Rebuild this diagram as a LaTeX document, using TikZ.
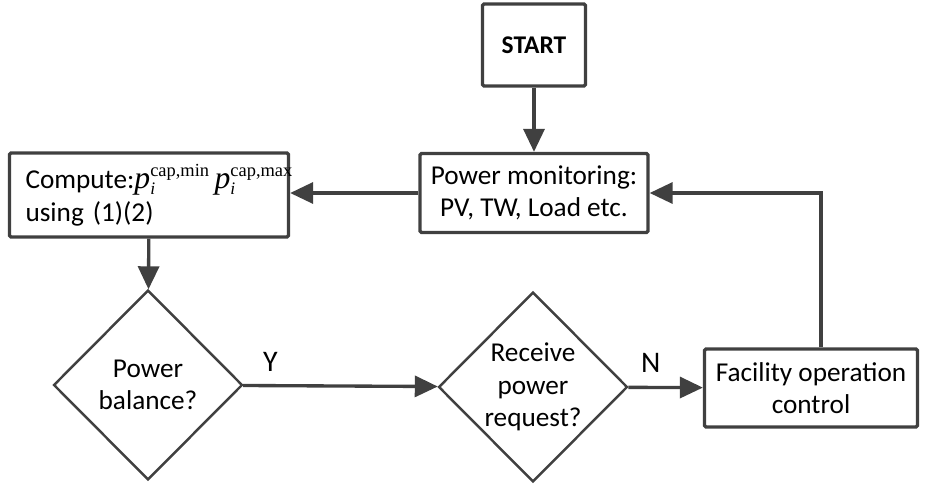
\documentclass[tikz,border=0pt]{standalone}
\usepackage{fontspec}
\setmainfont{Carlito}
\newfontfamily\timesfont{Liberation Serif}
\usetikzlibrary{positioning,shapes.geometric,arrows.meta}
\definecolor{lineColor}{RGB}{64,64,64}
\tikzstyle{chart} = [x = 0.02cm, y = -0.02cm]
\tikzstyle{chartFont} = [font=\fontsize{15.5}{18.5}\selectfont]
\tikzstyle{boxStyle} = [draw=lineColor, line width=1.9pt, rounded corners=.03cm, align=center, inner sep=2pt, chartFont]
\tikzstyle{decisionStyle} = [diamond, draw=lineColor, line width=1.4pt, align=center, inner sep=0pt, minimum width=3.78cm, minimum height=3.8cm, chartFont]
\tikzstyle{flowLine} = [draw=lineColor, line width=1.9pt, -{Triangle[length=.46cm, width=.42cm]}]
\tikzstyle{branchText} = [font=\fontsize{17}{19}\selectfont]
\newcommand{\capVar}[1]{$\mbox{\timesfont\itshape\fontsize{18}{20}\selectfont p}_{\mbox{\timesfont\itshape\fontsize{10}{11}\selectfont i}}^{\mbox{\timesfont\fontsize{10.5}{11}\selectfont cap,#1}}$}

\begin{document}
\begin{tikzpicture}[chart]
  \useasboundingbox (0,0) rectangle (928,483);
  \node [boxStyle, minimum width=2.06cm, minimum height=1.64cm, font=\fontsize{14.5}{17}\selectfont\bfseries] (start) at (534,45) {START};
  \node [boxStyle, minimum width=4.56cm, minimum height=1.58cm] (monitor) at (534,193) {Power monitoring:\\PV, TW, Load etc.};
  \node [boxStyle, minimum width=5.58cm, minimum height=1.68cm, align=left, inner xsep=.32cm, text width=4.94cm] (compute) at (149,195) {Compute:\capVar{min}\,\capVar{max}\\using (1)(2)};
  \node [decisionStyle] (balance) at (148,385) {Power\\balance?};
  \node [decisionStyle] (request) at (533,387) {Receive\\power\\request?};
  \node [boxStyle, minimum width=4.26cm, minimum height=1.56cm] (facility) at (811,388) {Facility operation\\control};
  \coordinate (corner) at (821,193);

  \draw [flowLine] (start) -- (monitor);
  \draw [flowLine] (monitor.west) -- (compute.east |- monitor.west);
  \draw [flowLine] (compute) -- (balance);
  \draw [flowLine] (balance) -- node [branchText, above, pos=.14, yshift=4pt] {Y} (request);
  \draw [flowLine] (request) -- node [branchText, above, pos=.3, yshift=4pt] {N} (facility);
  \draw [flowLine] (facility.north -| corner) -- (corner) -- (monitor.east);
\end{tikzpicture}
\end{document}
